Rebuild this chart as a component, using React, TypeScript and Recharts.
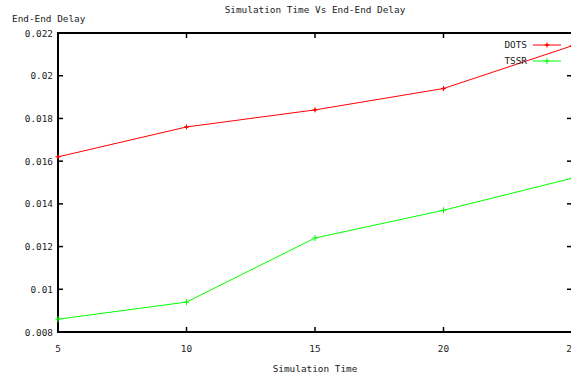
import React from "react";
import { LineChart, Line, XAxis, YAxis, ReferenceArea } from "recharts";

const times = [5, 10, 15, 20, 25];
const dotsDelay = [0.0162, 0.0176, 0.0184, 0.0194, 0.0214];
const tssrDelay = [0.0086, 0.0094, 0.0124, 0.0137, 0.0152];
const xTicks = [5, 10, 15, 20, 25];
const yTicks = [0.008, 0.01, 0.012, 0.014, 0.016, 0.018, 0.02, 0.022];

const data = times.map((t, i) => ({ t, dots: dotsDelay[i], tssr: tssrDelay[i] }));

const FONT = "'DejaVu Sans Mono', monospace";
const FS = 9.4;
const PLOT_L = 58;
const PLOT_R = 572;
const PLOT_T = 33;
const PLOT_B = 332;

const fmt = (v: number) => String(Number(v.toFixed(3)));

const XTick = (props: any) => {
  const { x, payload } = props;
  return (
    <g>
      <line x1={x} x2={x} y1={PLOT_B} y2={PLOT_B - 5} stroke="#000" strokeWidth={1.5} />
      <line x1={x} x2={x} y1={PLOT_T} y2={PLOT_T + 5} stroke="#000" strokeWidth={1.5} />
      <text x={x} y={PLOT_B + 20} textAnchor="middle" fontFamily={FONT} fontSize={FS} fill="#222">
        {payload.value}
      </text>
    </g>
  );
};

const YTick = (props: any) => {
  const { y, payload } = props;
  return (
    <g>
      <line x1={PLOT_L} x2={PLOT_L + 5} y1={y} y2={y} stroke="#000" strokeWidth={1.5} />
      <line x1={PLOT_R - 5} x2={PLOT_R} y1={y} y2={y} stroke="#000" strokeWidth={1.5} />
      <text x={PLOT_L - 5} y={y + 3.5} textAnchor="end" fontFamily={FONT} fontSize={FS} fill="#222">
        {fmt(payload.value)}
      </text>
    </g>
  );
};

const DotsMark = (props: any) => {
  const { cx, cy } = props;
  return (
    <g>
      <line x1={cx - 2.5} x2={cx + 2.5} y1={cy} y2={cy} stroke="#ff0000" />
      <line x1={cx} x2={cx} y1={cy - 2.5} y2={cy + 2.5} stroke="#ff0000" />
      <circle cx={cx} cy={cy} r={1.3} fill="#ff0000" />
    </g>
  );
};

const TssrMark = (props: any) => {
  const { cx, cy } = props;
  return (
    <g>
      <line x1={cx - 2.5} x2={cx + 2.5} y1={cy} y2={cy} stroke="#00ff00" />
      <line x1={cx} x2={cx} y1={cy - 3} y2={cy + 3} stroke="#00ff00" />
    </g>
  );
};

// gnuplot style key in the top right corner
const LegendBox = () => (
  <svg width={120} height={34}>
    <text x={77} y={11} textAnchor="end" fontFamily={FONT} fontSize={FS} fill="#222">DOTS</text>
    <line x1={83} x2={111} y1={8} y2={8} stroke="#ff0000" />
    <DotsMark cx={97} cy={8} />
    <text x={77} y={27} textAnchor="end" fontFamily={FONT} fontSize={FS} fill="#222">TSSR</text>
    <line x1={83} x2={111} y1={24} y2={24} stroke="#00ff00" />
    <TssrMark cx={97} cy={24} />
  </svg>
);

export default function App() {
  return (
    <div style={{ position: "absolute", left: 0, top: 0, width: 571, height: 380, overflow: "hidden", background: "#fff" }}>
      <div style={{ position: "absolute", left: 0, top: 4, width: 630, textAlign: "center", fontFamily: FONT, fontSize: FS, color: "#222" }}>
        Simulation Time Vs End-End Delay
      </div>
      <div style={{ position: "absolute", left: 12, top: 13, fontFamily: FONT, fontSize: FS, color: "#222" }}>
        End-End Delay
      </div>
      <div style={{ position: "absolute", left: 0, top: 363, width: 630, textAlign: "center", fontFamily: FONT, fontSize: FS, color: "#222" }}>
        Simulation Time
      </div>
      <LineChart
        width={PLOT_R}
        height={380}
        data={data}
        margin={{ top: PLOT_T, right: 0, bottom: 0, left: 0 }}
        style={{ position: "absolute", left: 0, top: 0 }}
      >
        <XAxis
          dataKey="t"
          type="number"
          domain={[5, 25]}
          ticks={xTicks}
          interval={0}
          height={380 - PLOT_B}
          axisLine={false}
          tickLine={false}
          tick={<XTick />}
        />
        <YAxis
          type="number"
          domain={[0.008, 0.022]}
          ticks={yTicks}
          interval={0}
          width={PLOT_L}
          axisLine={false}
          tickLine={false}
          tick={<YTick />}
        />
        <ReferenceArea x1={5} x2={25} y1={0.008} y2={0.022} fill="none" stroke="#000" strokeWidth={2} />
        <Line
          type="linear"
          dataKey="dots"
          stroke="#ff0000"
          strokeWidth={1}
          dot={<DotsMark />}
          activeDot={false}
          isAnimationActive={false}
        />
        <Line
          type="linear"
          dataKey="tssr"
          stroke="#00ff00"
          strokeWidth={1}
          dot={<TssrMark />}
          activeDot={false}
          isAnimationActive={false}
        />
      </LineChart>
      <div style={{ position: "absolute", left: 450, top: 37 }}>
        <LegendBox />
      </div>
    </div>
  );
}
